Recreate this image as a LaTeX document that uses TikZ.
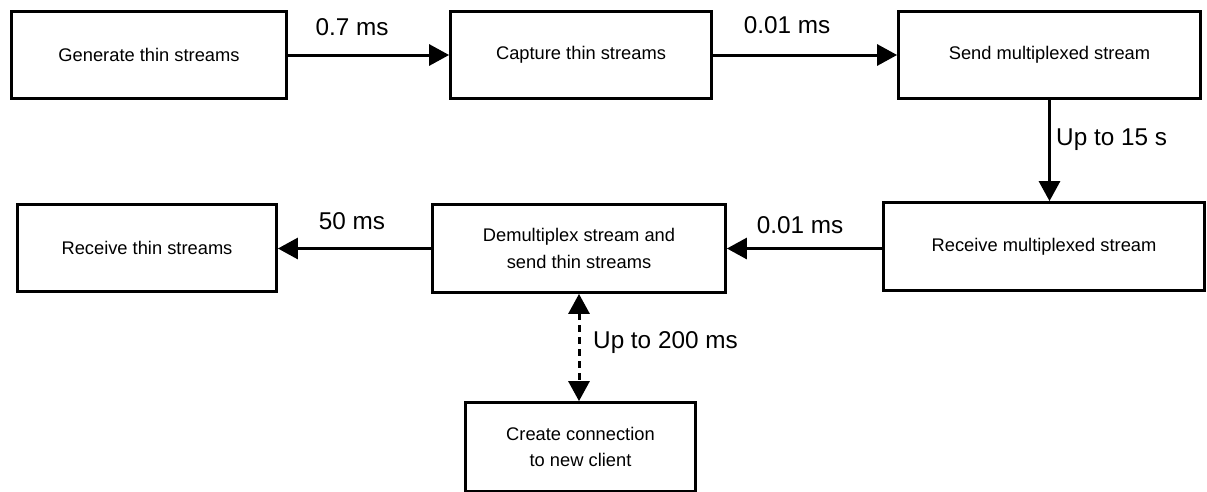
\documentclass[tikz,border=0pt]{standalone}
\usepackage{fontspec}
\setmainfont{Liberation Sans}
\usetikzlibrary{arrows.meta}
\begin{document}
\begin{tikzpicture}[x=1pt,y=-1pt,
  box/.style={draw,line width=2.8pt,inner sep=0pt,align=center,
    font=\fontsize{18.3}{26.5}\selectfont},
  lbl/.style={inner sep=0pt,font=\fontsize{24.3}{29}\selectfont},
  conn/.style={line width=3pt,-{Triangle[length=20pt,width=21pt]}},
  dconn/.style={line width=3pt,dash pattern=on 7pt off 5pt,
    {Triangle[length=20pt,width=21pt]}-{Triangle[length=20pt,width=21pt]}}]
\useasboundingbox (0,0) rectangle (1207,491);
\node[box,minimum width=275pt,minimum height=87pt] (b1) at (149,55) {Generate thin streams};
\node[box,minimum width=261pt,minimum height=87pt] (b2) at (581,55) {Capture thin streams};
\node[box,minimum width=302pt,minimum height=87pt] (b3) at (1049.5,55) {Send multiplexed stream};
\node[box,minimum width=321pt,minimum height=88pt] (b4) at (1044,246.5) {Receive multiplexed stream};
\node[box,minimum width=293pt,minimum height=88pt] (b5) at (579,248.5) {Demultiplex stream and\\send thin streams};
\node[box,minimum width=259pt,minimum height=87pt] (b6) at (147,248) {Receive thin streams};
\node[box,minimum width=230pt,minimum height=89pt] (b7) at (580.5,447) {Create connection\\to new client};
\draw[conn] (b1.east) -- (b2.west);
\draw[conn] (b2.east) -- (b3.west);
\draw[conn] (b3.south) -- (b3.south |- b4.north);
\draw[conn] (b4.west |- b5.east) -- (b5.east);
\draw[conn] (b5.west) -- (b5.west -| b6.east);
\draw[dconn] (b5.south) -- (b5.south |- b7.north);
\node[lbl] (l1) at (352,27) {0.7 ms};
\node[lbl] (l2) at (787,25) {0.01 ms};
\node[lbl,anchor=west] (l3) at (1056,140) {Up to 15 s};
\node[lbl] (l4) at (800,225) {0.01 ms};
\node[lbl] (l5) at (352,221) {50 ms};
\node[lbl,anchor=west] (l6) at (593,343) {Up to 200 ms};
\end{tikzpicture}
\end{document}
